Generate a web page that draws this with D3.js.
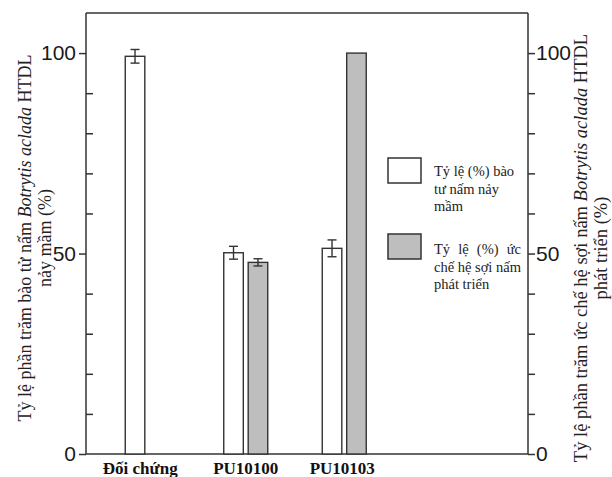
<!DOCTYPE html>
<html>
<head>
<meta charset="utf-8">
<script src="https://cdn.jsdelivr.net/npm/d3@7"></script>
<style>
  body { margin: 0; background: #fff; }
  svg { display: block; }
</style>
</head>
<body>
<svg id="chart" width="612" height="477"></svg>
<script>
const categories = ['Đối chứng', 'PU10100', 'PU10103']
const germination = [99.2, 50.2, 51.3]
const germinationErr = [1.7, 1.6, 2.1]
const inhibition = [0, 47.8, 100]
const inhibitionErr = [0, 0.9, 0]
const yTicks = [0, 50, 100]

const svg = d3.select('#chart')
const plotLeft = 86, plotRight = 528, plotTop = 13, plotBottom = 454
const ink = '#333'
const serif = 'Liberation Serif, Times New Roman, serif'

const y = d3.scaleLinear().domain([0, 110]).range([plotBottom, plotTop])
const x = d3.scaleBand().domain(categories).range([98, 393.5])
const sub = d3.scaleBand().domain(['g', 'i']).range([0, 44]).paddingInner(0.2)

// frame
svg.append('line').attr('x1', plotLeft).attr('x2', plotRight).attr('y1', plotTop).attr('y2', plotTop)
  .attr('stroke', ink).attr('stroke-width', 1.5)
svg.append('line').attr('x1', plotLeft).attr('x2', plotRight).attr('y1', plotBottom).attr('y2', plotBottom)
  .attr('stroke', ink).attr('stroke-width', 1.5)

// left axis: major ticks outward, minor ticks inward
let leftAxis = svg.append('g').attr('transform', `translate(${plotLeft},0)`)
  .call(d3.axisLeft(y).tickValues(yTicks).tickSize(7).tickPadding(3).tickFormat(d3.format('d')))
leftAxis.select('.domain').attr('d', `M0,${plotTop}V${plotBottom}`)
svg.append('g').attr('transform', `translate(${plotLeft},0)`)
  .call(d3.axisRight(y).tickValues(d3.range(10, 100, 10).filter(d => d != 50)).tickSize(7).tickFormat(''))
  .select('.domain').remove()

// right axis: ticks outward
let rightAxis = svg.append('g').attr('transform', `translate(${plotRight},0)`)
  .call(d3.axisRight(y).tickValues(d3.range(0, 101, 10)).tickSize(7).tickPadding(1)
    .tickFormat(d => yTicks.includes(d) ? d : ''))
rightAxis.select('.domain').attr('d', `M0,${plotTop}V${plotBottom}`)

svg.selectAll('.tick text').attr('font-family', 'Liberation Sans, Arial, sans-serif')
  .attr('font-size', 21).attr('fill', '#1a1a1a')
svg.selectAll('.domain, .tick line').attr('stroke', ink).attr('stroke-width', 1.5)

// bars
let groups = svg.append('g').selectAll('g').data(categories).enter().append('g')
  .attr('transform', d => `translate(${x(d) + x.bandwidth() / 2 - 22},0)`)

groups.append('rect')
  .attr('x', sub('g')).attr('width', sub.bandwidth())
  .attr('y', (d, i) => y(germination[i])).attr('height', (d, i) => y(0) - y(germination[i]))
  .attr('fill', '#fff').attr('stroke', ink).attr('stroke-width', 1.4)

groups.append('rect')
  .attr('x', sub('i')).attr('width', sub.bandwidth())
  .attr('y', (d, i) => y(inhibition[i])).attr('height', (d, i) => y(0) - y(inhibition[i]))
  .attr('fill', '#bebebe').attr('stroke', ink).attr('stroke-width', 1.4)

function errorBar(sel, key, vals, errs) {
  let cx = sub(key) + sub.bandwidth() / 2
  let eb = sel.filter((d, i) => errs[i] > 0).append('g').attr('stroke', ink).attr('stroke-width', 1.4)
  eb.append('line').attr('x1', cx).attr('x2', cx)
    .attr('y1', d => y(vals[categories.indexOf(d)] + errs[categories.indexOf(d)]))
    .attr('y2', d => y(vals[categories.indexOf(d)] - errs[categories.indexOf(d)]))
  ;[1, -1].forEach(s => {
    eb.append('line').attr('x1', cx - 4.5).attr('x2', cx + 4.5)
      .attr('y1', d => y(vals[categories.indexOf(d)] + s * errs[categories.indexOf(d)]))
      .attr('y2', d => y(vals[categories.indexOf(d)] + s * errs[categories.indexOf(d)]))
  })
}
errorBar(groups, 'g', germination, germinationErr)
errorBar(groups, 'i', inhibition, inhibitionErr)

// category labels (slightly shifted like the original)
const labelShift = [-7, 0, -2]
svg.append('g').selectAll('text').data(categories).enter().append('text')
  .attr('x', (d, i) => x(d) + x.bandwidth() / 2 + labelShift[i]).attr('y', 474)
  .attr('text-anchor', 'middle')
  .attr('font-family', serif)
  .attr('font-weight', 'bold').attr('font-size', 17).attr('fill', '#111')
  .text(d => d)

// axis titles
function title(cx, cy, lines, size) {
  let t = svg.append('text').attr('transform', `translate(${cx},${cy}) rotate(-90)`)
    .attr('text-anchor', 'middle').attr('font-family', serif).attr('font-size', size).attr('fill', '#222')
  lines.forEach((parts, li) => {
    let ts = t.append('tspan').attr('x', 0).attr('y', li * 20)
    parts.forEach(p => {
      ts.append('tspan').attr('font-style', p.i ? 'italic' : null).text(p.t)
    })
  })
}
title(31, 238, [
  [{ t: 'Tỷ lệ phần trăm bào tử nấm ' }, { t: 'Botrytis aclada', i: true }, { t: ' HTDL' }],
  [{ t: 'nảy mầm (%)' }]
], 18)
title(587, 248, [
  [{ t: 'Tỷ lệ phần trăm ức chế hệ sợi nấm ' }, { t: 'Botrytis aclada', i: true }, { t: ' HTDL' }],
  [{ t: 'phát triển (%)' }]
], 18.5)

// legend
const legendItems = [
  { fill: '#fff', y: 158, lines: ['Tỷ lệ (%) bào', 'tư nấm nảy', 'mầm'], ty: 176 },
  { fill: '#bebebe', y: 234, lines: ['Tỷ lệ (%) ức', 'chế hệ sợi nấm', 'phát triển'], ty: 254, justify: true }
]
legendItems.forEach(it => {
  svg.append('rect').attr('x', 388).attr('y', it.y).attr('width', 33).attr('height', 25)
    .attr('fill', it.fill).attr('stroke', ink).attr('stroke-width', 1.5)
  let rows = it.lines.map((l, i) => svg.append('text').attr('x', 434).attr('y', it.ty + i * 17.5)
    .attr('font-family', serif).attr('font-size', 14.5).attr('fill', '#222').text(l))
  if (it.justify) {
    let full = rows[1].node().getComputedTextLength()
    let w = rows[0].node().getComputedTextLength()
    let gaps = it.lines[0].split(' ').length - 1
    rows[0].attr('word-spacing', (full - w) / gaps)
  }
})
</script>
</body>
</html>
